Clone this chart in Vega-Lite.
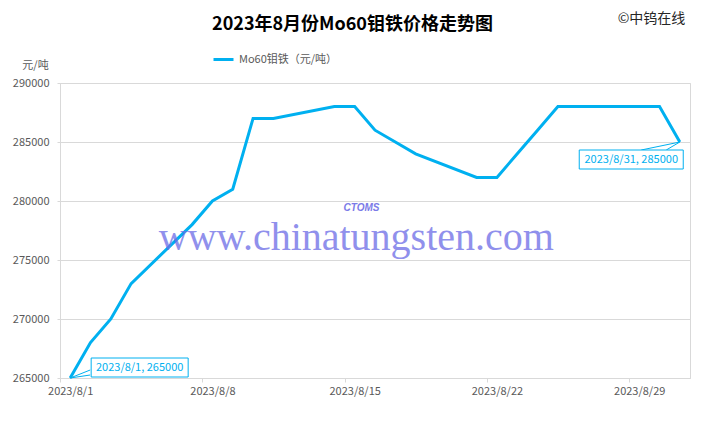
{
  "$schema": "https://vega.github.io/schema/vega-lite/v6.json",
  "width": 630,
  "height": 295,
  "autosize": {"type": "none"},
  "padding": {"left": 60, "top": 83, "right": 20, "bottom": 44},
  "background": "white",
  "config": {"font": "Noto Sans CJK SC", "view": {"stroke": "#d9d9d9"}},
  "datasets": {
    "prices": [
      {"date": "2023-08-01", "price": 265000},
      {"date": "2023-08-02", "price": 268000},
      {"date": "2023-08-03", "price": 270000},
      {"date": "2023-08-04", "price": 273000},
      {"date": "2023-08-07", "price": 278000},
      {"date": "2023-08-08", "price": 280000},
      {"date": "2023-08-09", "price": 281000},
      {"date": "2023-08-10", "price": 287000},
      {"date": "2023-08-11", "price": 287000},
      {"date": "2023-08-14", "price": 288000},
      {"date": "2023-08-15", "price": 288000},
      {"date": "2023-08-16", "price": 286000},
      {"date": "2023-08-17", "price": 285000},
      {"date": "2023-08-18", "price": 284000},
      {"date": "2023-08-21", "price": 282000},
      {"date": "2023-08-22", "price": 282000},
      {"date": "2023-08-23", "price": 284000},
      {"date": "2023-08-24", "price": 286000},
      {"date": "2023-08-25", "price": 288000},
      {"date": "2023-08-28", "price": 288000},
      {"date": "2023-08-29", "price": 288000},
      {"date": "2023-08-30", "price": 288000},
      {"date": "2023-08-31", "price": 285000}
    ],
    "notes": [
      {"id": 1, "date": "2023-08-01", "price": 265000, "label": "2023/8/1, 265000"},
      {"id": 2, "date": "2023-08-31", "price": 285000, "label": "2023/8/31, 285000"}
    ],
    "watermark": [
      {"kind": "www", "date": "2023-08-15T02:00:00Z", "price": 275850, "label": "www.chinatungsten.com"},
      {"kind": "logo", "date": "2023-08-15T08:00:00Z", "price": 279400, "label": "CTOMS"}
    ]
  },
  "layer": [
    {
      "data": {"name": "prices"},
      "mark": {"type": "line", "strokeWidth": 3},
      "encoding": {
        "x": {
          "field": "date", "type": "temporal",
          "scale": {"type": "utc", "domain": [
            {"year": 2023, "month": "jul", "date": 31, "hours": 12, "utc": true},
            {"year": 2023, "month": "aug", "date": 31, "hours": 12, "utc": true}
          ]},
          "axis": {
            "values": [
              {"year": 2023, "month": "aug", "date": 1, "utc": true},
              {"year": 2023, "month": "aug", "date": 8, "utc": true},
              {"year": 2023, "month": "aug", "date": 15, "utc": true},
              {"year": 2023, "month": "aug", "date": 22, "utc": true},
              {"year": 2023, "month": "aug", "date": 29, "utc": true}
            ],
            "labelExpr": "utcFormat(datum.value, '%Y/%-m/%-d')",
            "grid": false, "domainColor": "#d9d9d9", "tickColor": "#d9d9d9",
            "tickSize": 4, "tickOffset": -10, "labelOffset": 10,
            "labelFontSize": 11, "labelColor": "#595959", "labelPadding": 3,
            "labelFlush": false, "labelOverlap": false, "title": null
          }
        },
        "y": {
          "field": "price", "type": "quantitative",
          "scale": {"domain": [265000, 290000], "nice": false, "zero": false},
          "axis": {
            "values": [265000, 270000, 275000, 280000, 285000, 290000],
            "format": "d", "grid": true, "gridColor": "#d9d9d9",
            "domainColor": "#d9d9d9", "tickColor": "#d9d9d9", "tickSize": 3,
            "labelFontSize": 11, "labelColor": "#595959", "labelPadding": 8,
            "title": "元/吨", "titleAngle": 0, "titleX": -25, "titleY": -18,
            "titleAlign": "center", "titleBaseline": "middle", "titleFontSize": 11,
            "titleFontWeight": "normal", "titleColor": "#595959"
          }
        },
        "color": {
          "datum": "Mo60钼铁（元/吨）", "type": "nominal",
          "scale": {"range": ["#00b0f0"]},
          "legend": {
            "orient": "none", "legendX": 152, "legendY": -35, "title": null,
            "symbolType": "stroke", "symbolSize": 400, "symbolStrokeWidth": 3,
            "labelFontSize": 11, "labelColor": "#595959", "labelOffset": 4, "padding": 0
          }
        }
      }
    },
    {
      "data": {"name": "watermark"},
      "transform": [{"filter": "datum.kind == 'www'"}],
      "mark": {"type": "text", "font": "Liberation Serif", "fontSize": 40, "color": "#6b6be6", "opacity": 0.75, "align": "center", "baseline": "alphabetic"},
      "encoding": {
        "x": {"field": "date", "type": "temporal", "axis": {
          "orient": "top", "labels": false, "ticks": false, "domain": false, "grid": false,
          "title": "2023年8月份Mo60钼铁价格走势图", "titleX": 292, "titleY": -59,
          "titleAlign": "center", "titleBaseline": "middle", "titleFontSize": 18,
          "titleFontWeight": "bold", "titleColor": "#000000"
        }},
        "y": {"field": "price", "type": "quantitative", "axis": {
          "orient": "right", "labels": false, "ticks": false, "domain": false, "grid": false,
          "title": "©中钨在线", "titleAngle": 0, "titleX": -39, "titleY": -65,
          "titleAlign": "center", "titleBaseline": "middle", "titleFontSize": 14,
          "titleFontWeight": "normal", "titleColor": "#262626"
        }},
        "text": {"field": "label"}
      }
    },
    {
      "data": {"name": "watermark"},
      "transform": [{"filter": "datum.kind == 'logo'"}],
      "mark": {"type": "text", "font": "Liberation Sans", "fontSize": 10, "fontStyle": "italic", "fontWeight": "bold", "color": "#7b7be8", "align": "center", "baseline": "middle"},
      "encoding": {
        "x": {"field": "date", "type": "temporal", "axis": null},
        "y": {"field": "price", "type": "quantitative", "axis": null},
        "text": {"field": "label"}
      }
    },
    {
      "data": {"name": "notes"},
      "transform": [{"filter": "datum.id == 1"}],
      "mark": {"type": "rule", "color": "#00b0f0", "strokeWidth": 1, "x2Offset": 20, "y2Offset": -8},
      "encoding": {
        "x": {"field": "date", "type": "temporal", "axis": null},
        "y": {"field": "price", "type": "quantitative", "axis": null},
        "x2": {"field": "date"},
        "y2": {"field": "price"}
      }
    },
    {
      "data": {"name": "notes"},
      "transform": [{"filter": "datum.id == 1"}],
      "mark": {"type": "rule", "color": "#00b0f0", "strokeWidth": 1, "x2Offset": 20, "y2Offset": -3},
      "encoding": {
        "x": {"field": "date", "type": "temporal", "axis": null},
        "y": {"field": "price", "type": "quantitative", "axis": null},
        "x2": {"field": "date"},
        "y2": {"field": "price"}
      }
    },
    {
      "data": {"name": "notes"},
      "transform": [{"filter": "datum.id == 2"}],
      "mark": {"type": "rule", "color": "#00b0f0", "strokeWidth": 1, "x2Offset": -38.6, "y2Offset": 8},
      "encoding": {
        "x": {"field": "date", "type": "temporal", "axis": null},
        "y": {"field": "price", "type": "quantitative", "axis": null},
        "x2": {"field": "date"},
        "y2": {"field": "price"}
      }
    },
    {
      "data": {"name": "notes"},
      "transform": [{"filter": "datum.id == 2"}],
      "mark": {"type": "rule", "color": "#00b0f0", "strokeWidth": 1, "x2Offset": -13.6, "y2Offset": 8},
      "encoding": {
        "x": {"field": "date", "type": "temporal", "axis": null},
        "y": {"field": "price", "type": "quantitative", "axis": null},
        "x2": {"field": "date"},
        "y2": {"field": "price"}
      }
    },
    {
      "data": {"name": "notes"},
      "transform": [{"filter": "datum.id == 1"}],
      "mark": {"type": "rect", "width": 97, "height": 19, "xOffset": 69.5, "yOffset": -10.5, "fill": "white", "stroke": "#00b0f0", "strokeWidth": 1},
      "encoding": {
        "x": {"field": "date", "type": "temporal", "axis": null},
        "y": {"field": "price", "type": "quantitative", "axis": null}
      }
    },
    {
      "data": {"name": "notes"},
      "transform": [{"filter": "datum.id == 2"}],
      "mark": {"type": "rect", "width": 104, "height": 19, "xOffset": -48.6, "yOffset": 17.5, "fill": "white", "stroke": "#00b0f0", "strokeWidth": 1},
      "encoding": {
        "x": {"field": "date", "type": "temporal", "axis": null},
        "y": {"field": "price", "type": "quantitative", "axis": null}
      }
    },
    {
      "data": {"name": "notes"},
      "transform": [{"filter": "datum.id == 1"}],
      "mark": {"type": "text", "xOffset": 69.5, "yOffset": -10.5, "align": "center", "baseline": "middle", "fontSize": 11, "color": "#00b0f0"},
      "encoding": {
        "x": {"field": "date", "type": "temporal", "axis": null},
        "y": {"field": "price", "type": "quantitative", "axis": null},
        "text": {"field": "label"}
      }
    },
    {
      "data": {"name": "notes"},
      "transform": [{"filter": "datum.id == 2"}],
      "mark": {"type": "text", "xOffset": -48.6, "yOffset": 17.5, "align": "center", "baseline": "middle", "fontSize": 11, "color": "#00b0f0"},
      "encoding": {
        "x": {"field": "date", "type": "temporal", "axis": null},
        "y": {"field": "price", "type": "quantitative", "axis": null},
        "text": {"field": "label"}
      }
    }
  ],
  "resolve": {"axis": {"x": "independent", "y": "independent"}}
}
